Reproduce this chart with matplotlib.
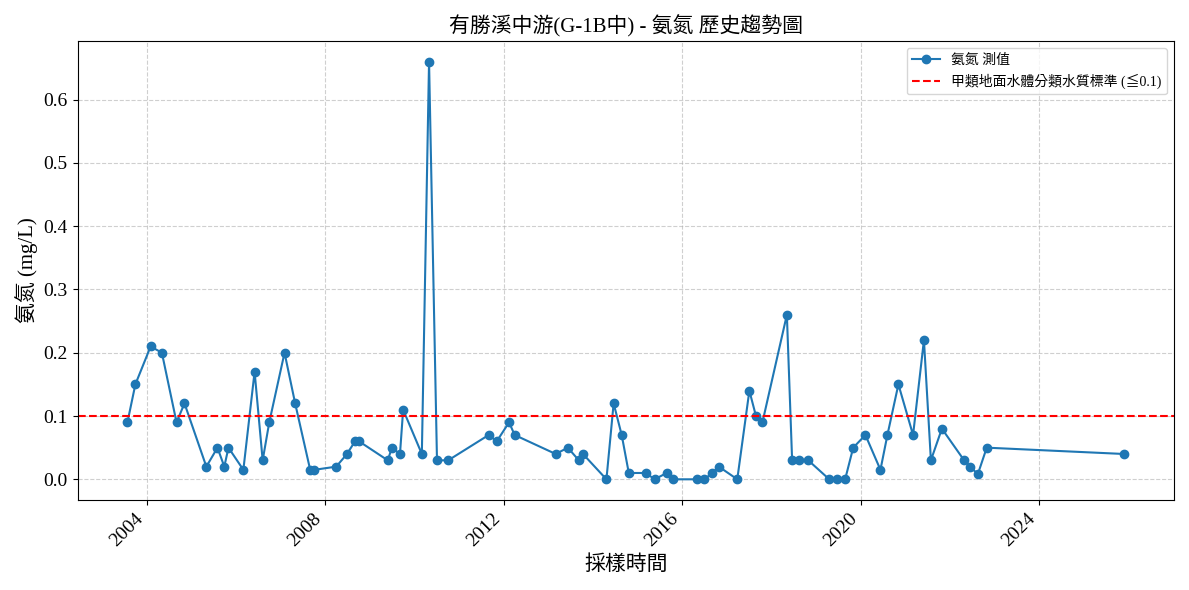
import pandas as pd
import matplotlib
matplotlib.use("Agg")
import matplotlib.pyplot as plt

plt.rcParams['font.family'] = ['Liberation Serif', 'Noto Sans CJK TC', 'DejaVu Sans']
plt.rcParams['axes.unicode_minus'] = False

# sampling dates and measured ammonia nitrogen (mg/L)
dates = [
    "2003-07-28", "2003-10-01", "2004-02-03", "2004-05-05", "2004-09-02", "2004-11-06",
    "2005-05-04", "2005-08-03", "2005-09-28", "2005-11-01", "2006-03-03", "2006-06-03",
    "2006-08-08", "2006-10-01", "2007-02-03", "2007-05-01", "2007-09-01", "2007-10-05",
    "2008-04-01", "2008-06-28", "2008-09-02", "2008-10-05", "2009-05-28", "2009-07-01",
    "2009-09-05", "2009-10-01", "2010-03-03", "2010-05-01", "2010-07-05", "2010-10-05",
    "2011-09-01", "2011-11-06", "2012-02-15", "2012-04-01", "2013-03-03", "2013-06-10",
    "2013-09-08", "2013-10-12", "2014-04-22", "2014-06-20", "2014-08-25", "2014-10-22",
    "2015-03-10", "2015-05-22", "2015-08-28", "2015-10-22", "2016-05-05", "2016-07-01",
    "2016-09-05", "2016-10-28", "2017-03-28", "2017-07-05", "2017-08-28", "2017-10-20",
    "2018-05-08", "2018-06-20", "2018-08-18", "2018-10-30", "2019-04-20", "2019-06-25",
    "2019-08-28", "2019-11-02", "2020-02-10", "2020-06-12", "2020-08-08", "2020-11-06",
    "2021-03-06", "2021-06-03", "2021-07-30", "2021-10-28", "2022-04-28", "2022-06-18",
    "2022-08-18", "2022-10-30", "2025-11-28",
]
values = [
    0.09, 0.15, 0.21, 0.20, 0.09, 0.12,
    0.02, 0.05, 0.02, 0.05, 0.015, 0.17,
    0.03, 0.09, 0.20, 0.12, 0.015, 0.015,
    0.02, 0.04, 0.06, 0.06, 0.03, 0.05,
    0.04, 0.11, 0.04, 0.66, 0.03, 0.03,
    0.07, 0.06, 0.09, 0.07, 0.04, 0.05,
    0.03, 0.04, 0.00, 0.12, 0.07, 0.01,
    0.01, 0.00, 0.01, 0.00, 0.00, 0.00,
    0.01, 0.02, 0.00, 0.14, 0.10, 0.09,
    0.26, 0.03, 0.03, 0.03, 0.00, 0.00,
    0.00, 0.05, 0.07, 0.015, 0.07, 0.15,
    0.07, 0.22, 0.03, 0.08, 0.03, 0.02,
    0.008, 0.05, 0.04,
]
standard = 0.1

df = pd.DataFrame({"date": pd.to_datetime(dates), "nh3n": values})

fig, ax = plt.subplots(figsize=(11.89, 5.9), dpi=100)
ax.plot(df["date"], df["nh3n"], marker='o', color='#1f77b4', label='氨氮 測值')
ax.axhline(standard, color='red', linestyle='--', label='甲類地面水體分類水質標準 (≦0.1)')

ax.set_title('有勝溪中游(G-1B中) - 氨氮 歷史趨勢圖', fontsize=15)
ax.set_xlabel('採樣時間', fontsize=15)
ax.set_ylabel('氨氮 (mg/L)', fontsize=15)
ax.tick_params(axis='both', labelsize=14)
ax.grid(True, linestyle='--', alpha=0.6)
ax.legend(fontsize=10)
fig.autofmt_xdate(rotation=45, ha='right')

fig.tight_layout()
fig.savefig("out.png")
